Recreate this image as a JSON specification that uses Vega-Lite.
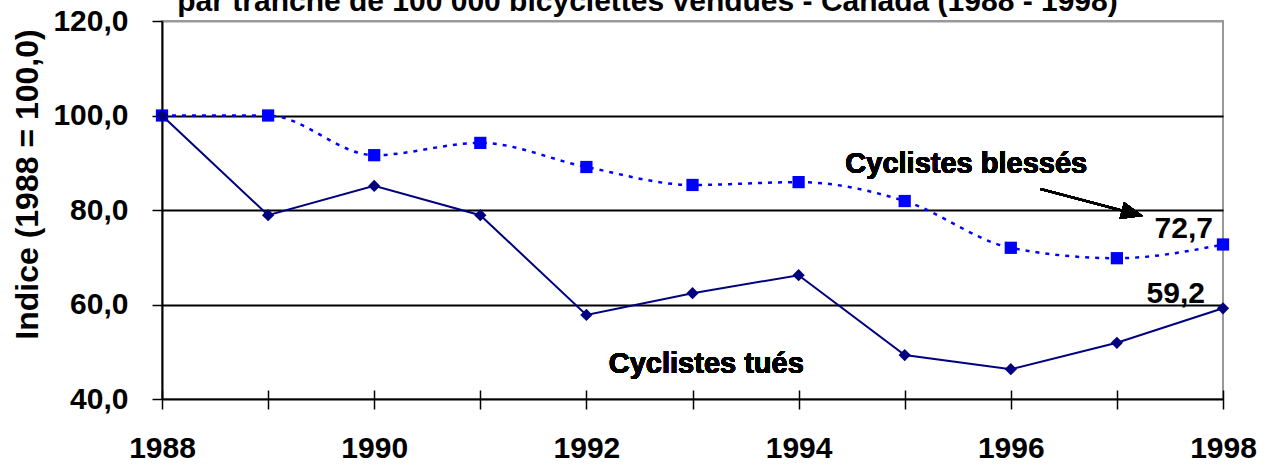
{
  "$schema": "https://vega.github.io/schema/vega-lite/v6.json",
  "width": 1061,
  "height": 378,
  "autosize": {"type": "none"},
  "padding": {"left": 162, "top": 21, "right": 47, "bottom": 66},
  "background": "white",
  "title": {
    "text": "par tranche de 100 000 bicyclettes vendues - Canada (1988 - 1998)",
    "font": "Liberation Sans", "fontSize": 30, "fontWeight": "bold", "color": "black",
    "anchor": "middle", "frame": "group", "baseline": "alphabetic", "offset": 0, "dx": -45, "dy": 35
  },
  "config": {
    "view": {"stroke": "#999999", "strokeWidth": 2},
    "locale": {"number": {"decimal": ",", "thousands": " ", "grouping": [3], "currency": ["", " €"]}}
  },
  "data": {
    "values": [
      {"year": 1988, "series": "tues", "value": 100},
      {"year": 1989, "series": "tues", "value": 78.9},
      {"year": 1990, "series": "tues", "value": 85.1},
      {"year": 1991, "series": "tues", "value": 78.9},
      {"year": 1992, "series": "tues", "value": 57.8},
      {"year": 1993, "series": "tues", "value": 62.4},
      {"year": 1994, "series": "tues", "value": 66.2},
      {"year": 1995, "series": "tues", "value": 49.3},
      {"year": 1996, "series": "tues", "value": 46.3},
      {"year": 1997, "series": "tues", "value": 51.9},
      {"year": 1998, "series": "tues", "value": 59.2},
      {"year": 1988, "series": "blesses", "value": 100},
      {"year": 1989, "series": "blesses", "value": 100},
      {"year": 1990, "series": "blesses", "value": 91.6},
      {"year": 1991, "series": "blesses", "value": 94.2},
      {"year": 1992, "series": "blesses", "value": 89.1},
      {"year": 1993, "series": "blesses", "value": 85.3},
      {"year": 1994, "series": "blesses", "value": 85.9},
      {"year": 1995, "series": "blesses", "value": 81.9},
      {"year": 1996, "series": "blesses", "value": 72.0},
      {"year": 1997, "series": "blesses", "value": 69.8},
      {"year": 1998, "series": "blesses", "value": 72.7}
    ]
  },
  "encoding": {
    "x": {
      "field": "year", "type": "quantitative",
      "scale": {"domain": [1988, 1998], "nice": false, "zero": false},
      "axis": {
        "title": null,
        "values": [1988, 1989, 1990, 1991, 1992, 1993, 1994, 1995, 1996, 1997, 1998],
        "format": "d",
        "labelExpr": "datum.value % 2 == 0 ? datum.label : ''",
        "domain": false, "offset": -9, "tickSize": 19, "tickColor": "black", "tickWidth": 1.5,
        "grid": false,
        "labelFont": "Liberation Sans", "labelFontSize": 30, "labelFontWeight": "bold", "labelColor": "black",
        "labelPadding": 24, "labelOverlap": false, "labelFlush": false
      }
    },
    "y": {
      "field": "value", "type": "quantitative",
      "scale": {"domain": [40, 120], "nice": false, "zero": false},
      "axis": {
        "title": "Indice (1988 = 100,0)",
        "values": [40, 60, 80, 100, 120],
        "format": ".1f",
        "domain": true, "domainColor": "black", "domainWidth": 2,
        "tickColor": "black", "tickSize": 10, "tickWidth": 1.5,
        "grid": true,
        "gridColor": {"condition": {"test": "datum.value == 120", "value": "#999999"}, "value": "black"},
        "gridWidth": 2,
        "labelFont": "Liberation Sans", "labelFontSize": 30, "labelFontWeight": "bold", "labelColor": "black",
        "labelPadding": 24,
        "titleFont": "Liberation Sans", "titleFontSize": 32, "titleFontWeight": "bold", "titleColor": "black",
        "titleAngle": -90, "titleX": -125, "titleY": 163, "titleBaseline": "alphabetic", "titleAlign": "center"
      }
    }
  },
  "layer": [
    {
      "transform": [{"filter": "datum.series == 'blesses'"}],
      "mark": {"type": "line", "color": "#0000ff", "strokeWidth": 2.5, "strokeDash": [4, 6], "interpolate": "monotone"}
    },
    {
      "transform": [{"filter": "datum.series == 'blesses'"}],
      "mark": {"type": "point", "shape": "square", "filled": true, "opacity": 1, "size": 150, "color": "#0000ff"}
    },
    {
      "transform": [{"filter": "datum.series == 'tues'"}],
      "mark": {"type": "line", "color": "#000080", "strokeWidth": 2}
    },
    {
      "transform": [{"filter": "datum.series == 'tues'"}],
      "mark": {"type": "point", "shape": "diamond", "filled": true, "opacity": 1, "size": 150, "color": "#000080"}
    },
    {
      "transform": [{"filter": "datum.series == 'blesses' && datum.year == 1998"}],
      "mark": {"type": "text", "font": "Liberation Sans", "fontSize": 30, "fontWeight": "bold", "color": "black", "align": "right", "baseline": "alphabetic", "dx": -10, "dy": -6},
      "encoding": {"text": {"field": "value", "type": "quantitative", "format": ".1f"}}
    },
    {
      "transform": [{"filter": "datum.series == 'tues' && datum.year == 1998"}],
      "mark": {"type": "text", "font": "Liberation Sans", "fontSize": 30, "fontWeight": "bold", "color": "black", "align": "right", "baseline": "alphabetic", "dx": -18, "dy": -5},
      "encoding": {"text": {"field": "value", "type": "quantitative", "format": ".1f"}}
    },
    {
      "mark": {"type": "text", "font": "Liberation Sans", "fontSize": 29, "fontWeight": "bold", "color": "black", "align": "center", "baseline": "alphabetic"},
      "encoding": {
        "x": {"datum": 1995.58, "type": "quantitative"},
        "y": {"datum": 87.8, "type": "quantitative"},
        "text": {"value": "Cyclistes blessés"}
      }
    },
    {
      "mark": {"type": "text", "font": "Liberation Sans", "fontSize": 29, "fontWeight": "bold", "color": "black", "align": "center", "baseline": "alphabetic"},
      "encoding": {
        "x": {"datum": 1993.13, "type": "quantitative"},
        "y": {"datum": 45.5, "type": "quantitative"},
        "text": {"value": "Cyclistes tués"}
      }
    },
    {
      "mark": {"type": "rule", "color": "black", "strokeWidth": 2},
      "encoding": {
        "x": {"datum": 1996.28, "type": "quantitative"},
        "y": {"datum": 84.44, "type": "quantitative"},
        "x2": {"datum": 1997.146},
        "y2": {"datum": 79.32}
      }
    },
    {
      "mark": {"type": "point", "shape": "M-1,-0.8L1,0L-1,0.8Z", "filled": true, "opacity": 1, "size": 484, "color": "black", "angle": 14.7},
      "encoding": {
        "x": {"datum": 1997.146, "type": "quantitative"},
        "y": {"datum": 79.32, "type": "quantitative"}
      }
    }
  ]
}
